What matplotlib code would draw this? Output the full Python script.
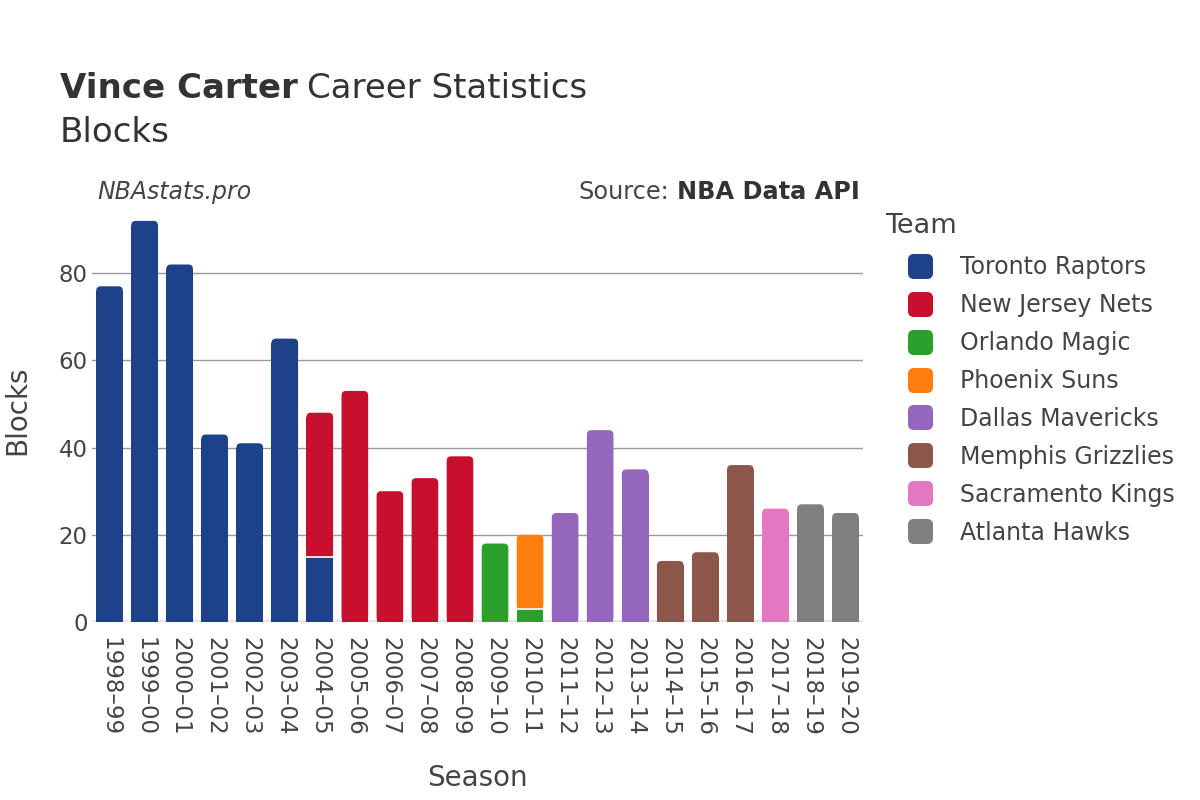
import numpy as np
import matplotlib
matplotlib.use("Agg")
import matplotlib.pyplot as plt
from matplotlib.patches import FancyBboxPatch, Rectangle, BoxStyle
from matplotlib.lines import Line2D
from matplotlib.path import Path

plt.rcParams['font.family'] = ['DejaVu Sans']

seasons = ["1998–99", "1999–00", "2000–01", "2001–02", "2002–03", "2003–04",
           "2004–05", "2005–06", "2006–07", "2007–08", "2008–09", "2009–10",
           "2010–11", "2011–12", "2012–13", "2013–14", "2014–15", "2015–16",
           "2016–17", "2017–18", "2018–19", "2019–20"]

teams = ["Toronto Raptors", "New Jersey Nets", "Orlando Magic", "Phoenix Suns",
         "Dallas Mavericks", "Memphis Grizzlies", "Sacramento Kings", "Atlanta Hawks"]
colors = ["#1d428a", "#c8102e", "#2ca02c", "#ff7f0e",
          "#9467bd", "#8c564b", "#e377c2", "#7f7f7f"]

# blocks per team per season (0 = did not play for that team)
toronto    = [77, 92, 82, 43, 41, 65, 15, 0, 0, 0, 0, 0, 0, 0, 0, 0, 0, 0, 0, 0, 0, 0]
new_jersey = [0, 0, 0, 0, 0, 0, 33, 53, 30, 33, 38, 0, 0, 0, 0, 0, 0, 0, 0, 0, 0, 0]
orlando    = [0, 0, 0, 0, 0, 0, 0, 0, 0, 0, 0, 18, 3, 0, 0, 0, 0, 0, 0, 0, 0, 0]
phoenix    = [0, 0, 0, 0, 0, 0, 0, 0, 0, 0, 0, 0, 17, 0, 0, 0, 0, 0, 0, 0, 0, 0]
dallas     = [0, 0, 0, 0, 0, 0, 0, 0, 0, 0, 0, 0, 0, 25, 44, 35, 0, 0, 0, 0, 0, 0]
memphis    = [0, 0, 0, 0, 0, 0, 0, 0, 0, 0, 0, 0, 0, 0, 0, 0, 14, 16, 36, 0, 0, 0]
sacramento = [0, 0, 0, 0, 0, 0, 0, 0, 0, 0, 0, 0, 0, 0, 0, 0, 0, 0, 0, 26, 0, 0]
atlanta    = [0, 0, 0, 0, 0, 0, 0, 0, 0, 0, 0, 0, 0, 0, 0, 0, 0, 0, 0, 0, 27, 25]

series = [toronto, new_jersey, orlando, phoenix, dallas, memphis, sacramento, atlanta]

W, H = 1200, 800
fig = plt.figure(figsize=(12, 8), dpi=100)
ax_l, ax_r, ax_t, ax_b = 92, 863, 210, 622
ax = fig.add_axes([ax_l / W, 1 - ax_b / H, (ax_r - ax_l) / W, (ax_b - ax_t) / H])

ymax = 94.5
ax.set_xlim(-0.5, len(seasons) - 0.5)
ax.set_ylim(0, ymax)

# pixel -> data ratios for rounding the bar tops
px_x = len(seasons) / (ax_r - ax_l)
px_y = ymax / (ax_b - ax_t)
r_px = 4.5
width = 0.76

x = np.arange(len(seasons))
bottom = np.zeros(len(seasons))
totals = np.sum(np.array(series), axis=0)
for vals, col in zip(series, colors):
    vals = np.array(vals, dtype=float)
    for i in range(len(seasons)):
        v = vals[i]
        if v <= 0:
            continue
        b = bottom[i]
        x0 = x[i] - width / 2
        if abs(b + v - totals[i]) < 1e-9:
            ry = r_px * px_y
            rx = r_px * px_x
            ax.add_patch(FancyBboxPatch((x0, b), width, v,
                                        boxstyle=f"round,pad=0,rounding_size={rx}",
                                        mutation_aspect=ry / rx,
                                        fc=col, ec="none", zorder=3))
            ax.add_patch(Rectangle((x0, b), width, max(v - ry, 0), fc=col, ec="none", zorder=3))
        else:
            ax.add_patch(Rectangle((x0, b), width, v, fc=col, ec="none", zorder=3))
        if b > 0:
            ax.plot([x0, x0 + width], [b, b], color="white", lw=1.2, zorder=4)
    bottom += vals

ax.set_yticks([0, 20, 40, 60, 80])
ax.yaxis.grid(True, color="#999999", lw=1)
ax.axhline(0, color="#e6e6e6", lw=3, zorder=2)
ax.set_axisbelow(True)
for s in ax.spines.values():
    s.set_visible(False)
ax.tick_params(length=0, labelsize=16.5, labelcolor="#444444")
ax.set_xticks(x)
ax.set_xticklabels(seasons, rotation=-90)
ax.tick_params(axis='x', pad=11)
ax.tick_params(axis='y', pad=3)

ax.set_ylabel("Blocks", fontsize=20, color="#444444")
ax.set_xlabel("Season", fontsize=20, color="#444444")
ax.xaxis.set_label_coords(0.5, -(778 - ax_b) / (ax_b - ax_t))
ax.xaxis.label.set_va("center")
ax.yaxis.set_label_coords(-(ax_l - 17) / (ax_r - ax_l), (ax_b - 410) / (ax_b - ax_t))
ax.yaxis.label.set_va("center")

# titles
renderer = fig.canvas.get_renderer()
t1 = fig.text(60 / W, 1 - 88 / H, "Vince Carter", fontsize=24.5, fontweight="bold",
              color="#333333", va="center")
w1 = t1.get_window_extent(renderer).width
fig.text((60 + w1 + 9) / W, 1 - 88 / H, "Career Statistics", fontsize=24.5,
         color="#333333", va="center")
fig.text(60 / W, 1 - 132 / H, "Blocks", fontsize=24.5, color="#333333", va="center")
fig.text(97 / W, 1 - 192 / H, "NBAstats.pro", fontsize=17, style="italic",
         color="#444444", va="center")
t2 = fig.text(860 / W, 1 - 192 / H, "NBA Data API", fontsize=17.3, fontweight="bold",
              color="#333333", va="center", ha="right")
w2 = t2.get_window_extent(renderer).width
fig.text((860 - w2 - 8) / W, 1 - 192 / H, "Source:", fontsize=17.3,
         color="#444444", va="center", ha="right")

# legend
fig.text(885 / W, 1 - 226 / H, "Team", fontsize=19.5, color="#444444", va="center")
rp = BoxStyle.Round(pad=0, rounding_size=0.22)(-0.5, -0.5, 1.0, 1.0, 1.0)
rmark = Path(rp.vertices, rp.codes)
handles = [Line2D([0], [0], marker=rmark, ls="none", markersize=17,
                  markerfacecolor=c, markeredgecolor=c) for c in colors]
leg = fig.legend(handles, teams, loc="upper left", bbox_to_anchor=(896 / W, 1 - 255 / H),
                 frameon=False, fontsize=17, borderpad=0, borderaxespad=0,
                 labelspacing=0.59, handletextpad=0.72, handlelength=2.0)
for t in leg.get_texts():
    t.set_color("#444444")

fig.savefig("out.png", dpi=100)
